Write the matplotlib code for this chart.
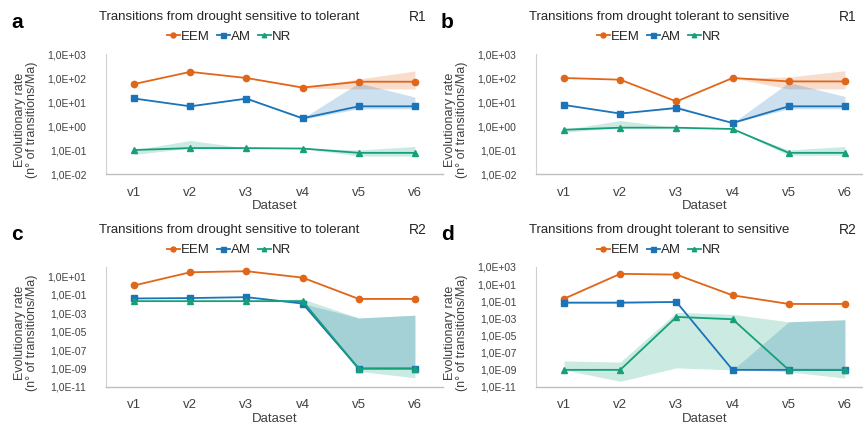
import matplotlib.pyplot as plt
import numpy as np

plt.rcParams['font.family'] = ['Liberation Sans', 'DejaVu Sans']

datasets = ['v1', 'v2', 'v3', 'v4', 'v5', 'v6']
series = ['EEM', 'AM', 'NR']

# panel a - R1, sensitive -> tolerant
a_eem = [56, 180, 100, 40, 70, 70]
a_eem_lo = [56, 180, 100, 38, 35, 35]
a_eem_hi = [56, 180, 100, 42, 91, 196]
a_am = [14, 6.6, 13.8, 2.1, 6.6, 6.6]
a_am_lo = [14, 6.6, 13.8, 1.9, 5.2, 5.2]
a_am_hi = [14, 6.6, 16, 2.1, 62, 16]
a_nr = [0.1, 0.12, 0.12, 0.115, 0.076, 0.076]
a_nr_lo = [0.065, 0.12, 0.12, 0.115, 0.056, 0.056]
a_nr_hi = [0.1, 0.25, 0.12, 0.115, 0.1, 0.14]

# panel b - R1, tolerant -> sensitive
b_eem = [100, 85, 10.5, 100, 72, 72]
b_eem_lo = [100, 85, 10.5, 100, 35, 35]
b_eem_hi = [100, 85, 10.5, 100, 110, 200]
b_am = [7.5, 3.3, 5.6, 1.33, 6.6, 6.6]
b_am_lo = [7.5, 3.3, 5.6, 1.33, 5.2, 5.2]
b_am_hi = [7.5, 3.3, 7, 1.33, 65, 17]
b_nr = [0.7, 0.85, 0.85, 0.75, 0.076, 0.076]
b_nr_lo = [0.55, 0.85, 0.85, 0.75, 0.06, 0.06]
b_nr_hi = [0.7, 1.7, 0.85, 0.75, 0.1, 0.14]

# panel c - R2, sensitive -> tolerant
c_eem = [1.0, 27, 35, 7, 0.035, 0.035]
c_eem_lo = [1.0, 27, 35, 7, 0.03, 0.03]
c_eem_hi = [1.0, 27, 35, 7, 0.045, 0.04]
c_am = [0.039, 0.043, 0.054, 0.011, 1e-9, 1e-9]
c_am_lo = [0.039, 0.043, 0.054, 0.011, 1e-9, 1e-9]
c_am_hi = [0.039, 0.043, 0.054, 0.011, 3e-4, 6e-4]
c_nr = [0.02, 0.02, 0.02, 0.02, 1e-9, 1e-9]
c_nr_lo = [0.02, 0.02, 0.02, 0.02, 5e-10, 1e-10]
c_nr_hi = [0.02, 0.02, 0.02, 0.035, 3e-4, 6e-4]

# panel d - R2, tolerant -> sensitive
d_eem = [0.2, 160, 130, 0.5, 0.049, 0.049]
d_eem_lo = [0.18, 150, 120, 0.45, 0.045, 0.045]
d_eem_hi = [0.22, 175, 140, 0.55, 0.055, 0.055]
d_am = [0.07, 0.07, 0.083, 1e-9, 1e-9, 1e-9]
d_am_lo = [0.055, 0.055, 0.083, 1e-9, 1e-9, 1e-9]
d_am_hi = [0.09, 0.09, 0.083, 1e-9, 4e-4, 7e-4]
d_nr = [1e-9, 1e-9, 1.5e-3, 0.8e-3, 1e-9, 1e-9]
d_nr_lo = [1e-9, 4.6e-11, 1.7e-9, 1e-9, 6e-10, 1.1e-10]
d_nr_hi = [1.1e-8, 8e-9, 5e-3, 3e-3, 4e-4, 7e-4]

colors = ['#E1661A', '#1B74B8', '#16A07A']
markers = ['o', 's', '^']
msizes = [4.5, 4.5, 4]

panels = [
    ('a', 'Transitions from drought sensitive to tolerant', 'R1',
     [(a_eem, a_eem_lo, a_eem_hi), (a_am, a_am_lo, a_am_hi), (a_nr, a_nr_lo, a_nr_hi)],
     (1e-2, 1e3), list(range(-2, 4))),
    ('b', 'Transitions from drought tolerant to sensitive', 'R1',
     [(b_eem, b_eem_lo, b_eem_hi), (b_am, b_am_lo, b_am_hi), (b_nr, b_nr_lo, b_nr_hi)],
     (1e-2, 1e3), list(range(-2, 4))),
    ('c', 'Transitions from drought sensitive to tolerant', 'R2',
     [(c_eem, c_eem_lo, c_eem_hi), (c_am, c_am_lo, c_am_hi), (c_nr, c_nr_lo, c_nr_hi)],
     (1e-11, 1e2), list(range(-11, 2, 2))),
    ('d', 'Transitions from drought tolerant to sensitive', 'R2',
     [(d_eem, d_eem_lo, d_eem_hi), (d_am, d_am_lo, d_am_hi), (d_nr, d_nr_lo, d_nr_hi)],
     (1e-11, 1e3), list(range(-11, 4, 2))),
]

W, H = 863, 426
fig = plt.figure(figsize=(W / 100, H / 100), dpi=100)

# pixel layout: (axes left, axes top), per panel
origins = [(106, 54), (536, 54), (106, 267), (536, 267)]
offsets = [0, 430, 0, 430]
ax_w, ax_h = 337, 120

x = np.arange(len(datasets))
for (letter, title, rep, data, ylim, exps), (l, t), dx in zip(panels, origins, offsets):
    ax = fig.add_axes([l / W, 1 - (t + ax_h) / H, ax_w / W, ax_h / H])
    handles = []
    for (val, lo, hi), c, m, ms, name in zip(data, colors, markers, msizes, series):
        ax.fill_between(x, lo, hi, color=c, alpha=0.22, lw=0)
        h, = ax.plot(x, val, color=c, marker=m, ms=ms, lw=1.3, label=name)
        handles.append(h)
    ax.set_yscale('log')
    ax.set_ylim(*ylim)
    ax.set_xlim(-0.5, 5.5)
    ax.set_yticks([10.0 ** e for e in exps])
    ax.set_yticklabels([f'1,0E{e:+03d}' for e in exps])
    ax.minorticks_off()
    ax.set_xticks(x)
    ax.set_xticklabels(datasets)
    ax.tick_params(axis='y', length=0, pad=14, labelsize=7.5, colors='#404040')
    ax.tick_params(axis='x', length=0, pad=9, labelsize=9.5, colors='#404040')
    for s in ['top', 'right']:
        ax.spines[s].set_visible(False)
    ax.spines['left'].set_color('#D0D0D0')
    ax.spines['bottom'].set_color('#BFBFBF')
    ax.spines['left'].set_linewidth(0.8)
    ax.spines['bottom'].set_linewidth(1.0)
    ax.set_xlabel('Dataset', fontsize=9.5, color='#404040', labelpad=1)

    cx = dx + 229
    fig.text(cx / W, 1 - (t - 37) / H, title, ha='center', va='center',
             fontsize=9.5, color='#262626')
    fig.text((dx + 418) / W, 1 - (t - 37) / H, rep, ha='center', va='center',
             fontsize=10, color='#262626')
    fig.text((dx + 17) / W, 1 - (t - 32) / H, letter, ha='center', va='center',
             fontsize=15, fontweight='bold', color='#000000')
    fig.text((dx + 26) / W, 1 - (t + 66) / H,
             'Evolutionary rate\n(n° of transitions/Ma)', rotation=90,
             ha='center', va='center', multialignment='center',
             fontsize=9, color='#404040', linespacing=1.0)
    fig.legend(handles=handles, loc='center', bbox_to_anchor=(cx / W, 1 - (t - 17) / H),
               ncol=3, frameon=False, fontsize=9.5, handlelength=1.0,
               handletextpad=0.1, columnspacing=0.5, borderpad=0,
               labelcolor='#262626', markerscale=0.8)

fig.savefig('out.png', dpi=100)
